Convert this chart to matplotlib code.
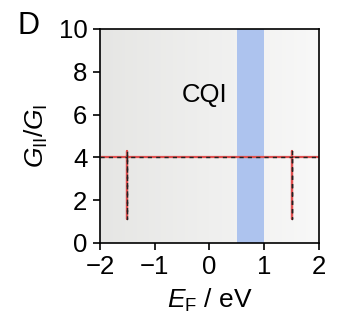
import matplotlib.pyplot as plt
import numpy as np
from matplotlib.colors import LinearSegmentedColormap

plt.rcParams['font.family'] = ['Liberation Sans', 'DejaVu Sans']
plt.rcParams['mathtext.fontset'] = 'custom'
plt.rcParams['mathtext.it'] = 'Liberation Sans:italic'
plt.rcParams['mathtext.rm'] = 'Liberation Sans'

# ratio G_II/G_I vs Fermi energy
ef = [-2.0, -1.5, -1.5, -1.5, -1.5, 1.5, 1.5, 1.5, 1.5, 2.0]
ratio = [4.0, 4.0, 4.3, 1.1, 4.0, 4.0, 4.3, 1.1, 4.0, 4.0]
cqi_band = [0.5, 1.0]

fig = plt.figure(figsize=(3.4, 3.21), dpi=100)
ax = fig.add_axes([0.294, 0.243, 0.644, 0.667])

# background shading, grey on the left fading to white
grad = np.linspace(0, 1, 256).reshape(1, -1)
bg = LinearSegmentedColormap.from_list('bg', ['#e6e6e4', '#f8f8f8'])
ax.imshow(grad, extent=[-2, 2, 0, 10], aspect='auto', cmap=bg, zorder=0)
ax.axvspan(cqi_band[0], cqi_band[1], color='#adc3ee', zorder=1, lw=0)

ax.plot(ef, ratio, color='#e05050', lw=1.6, zorder=2)
ax.plot(ef, ratio, color='#222222', lw=1.0, ls=(0, (3, 3)), zorder=3)

ax.text(-0.08, 6.9, 'CQI', fontsize=18.5, ha='center', va='center')

ax.set_xlim(-2, 2)
ax.set_ylim(0, 10)
ax.set_xticks([-2, -1, 0, 1, 2])
ax.set_xticklabels(['\u22122', '\u22121', '0', '1', '2'])
ax.set_yticks([0, 2, 4, 6, 8, 10])
ax.tick_params(labelsize=18.5, width=1.2, length=5, direction='out', pad=4)
for s in ax.spines.values():
    s.set_linewidth(1.2)

ax.set_xlabel(r'$E_{\mathrm{F}}$ / eV', fontsize=19, labelpad=5)
ax.set_ylabel(r'$G_{\mathrm{II}}/G_{\mathrm{I}}$', fontsize=19, labelpad=6)
fig.text(0.05, 0.965, 'D', fontsize=22, va='top')

fig.savefig('out.png', dpi=100)
